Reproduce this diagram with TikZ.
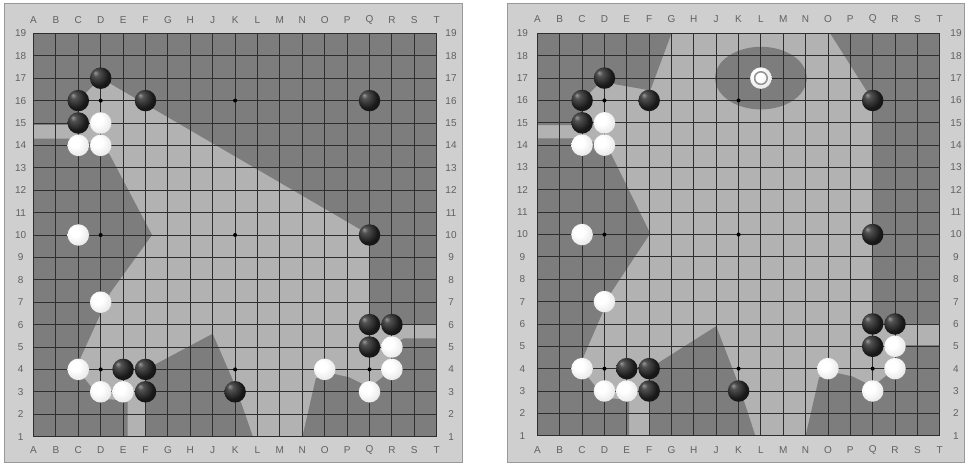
\documentclass[tikz,border=0pt]{standalone}
\usepackage{fontspec}
\setmainfont{Liberation Sans}
\pgfdeclareradialshading{blackstone}{\pgfpoint{-13bp}{13bp}}{color(0bp)=(black!40); color(7bp)=(black!68); color(24bp)=(black!90); color(50bp)=(black!97)}
\pgfdeclareradialshading{whitestone}{\pgfpoint{-10bp}{10bp}}{color(0bp)=(white); color(12bp)=(white); color(30bp)=(black!9); color(44bp)=(black!24); color(50bp)=(black!38)}
\tikzset{
  panel/.style={fill=black!19, draw=black!40, line width=0.6pt},
  darkterr/.style={fill=black!51},
  lightterr/.style={fill=black!30},
  gridline/.style={draw=black!82, line width=0.85pt},
  coordlabel/.style={text=black!62, font=\fontsize{10}{11}\selectfont, inner sep=0pt},
  bstone/.style={circle, minimum size=21.5pt, inner sep=0pt, shade, shading=blackstone},
  wstone/.style={circle, minimum size=21.5pt, inner sep=0pt, shade, shading=whitestone},
  starpt/.style={circle, fill=black, minimum size=4pt, inner sep=0pt},
  marker/.style={draw=black!42, line width=1.6pt},
}
\begin{document}
\begin{tikzpicture}[x=1pt,y=1pt]
\useasboundingbox (0,0) rectangle (967,464);
\fill[white] (0,0) rectangle (967,464);
% panels
\path[panel] (4,2) rectangle (462,461);
\path[panel] (507,2) rectangle (964,461);

% ================= LEFT BOARD =================
\begin{scope}[shift={(11.1pt,5pt)}, x=22.4pt, y=22.4pt]
  \fill[darkterr] (1,1) rectangle (19,19);
  \fill[lightterr] (1,14.9) -- (3,14.9) -- (3,16) -- (4,17) -- (16,10) -- (16,6) -- (19,6)
    -- (19,5.38) -- (17.5,5.38) -- (17,5) -- (17,4) -- (16,3.2) -- (15.1,3.65) -- (14.2,3.85)
    -- (13.6,3.6) -- (13,1) -- (10.8,1) -- (10,3.3) -- (9,5.6) -- (6,4) -- (6,1) -- (5.2,1)
    -- (5.2,2.6) -- (4,2.7) -- (3.2,3.7) -- (3.1,4.5) -- (4.42,7.4) -- (6.3,10) -- (4.4,13.6)
    -- (4,14) -- (3,14.3) -- (1,14.3) -- cycle;
  \foreach \i in {1,...,19} {
    \draw[gridline] (\i,1) -- (\i,19);
    \draw[gridline] (1,\i) -- (19,\i);
  }
  \foreach \l [count=\i] in {A,B,C,D,E,F,G,H,J,K,L,M,N,O,P,Q,R,S,T} {
    \node[coordlabel] (atop\l) at (\i,19.6) {\l};
    \node[coordlabel] (abot\l) at (\i,0.4) {\l};
  }
  \foreach \i in {1,...,19} {
    \node[coordlabel] (aleft\i) at (0.43,\i) {\i};
    \node[coordlabel] (aright\i) at (19.64,\i) {\i};
  }
  \foreach \c/\r/\n in {4/4/D4,4/10/D10,4/16/D16,10/4/K4,10/10/K10,10/16/K16,16/4/Q4,16/10/Q10,16/16/Q16}
    \node[starpt] (as\n) at (\c,\r) {};
  \foreach \c/\r/\n in {4/17/D17,3/16/C16,6/16/F16,3/15/C15,16/16/Q16,16/10/Q10,16/6/Q6,17/6/R6,16/5/Q5,5/4/E4,6/4/F4,6/3/F3,10/3/K3}
    \node[bstone] (a\n) at (\c,\r) {};
  \foreach \c/\r/\n in {4/15/D15,3/14/C14,4/14/D14,3/10/C10,4/7/D7,3/4/C4,4/3/D3,5/3/E3,14/4/O4,17/5/R5,17/4/R4,16/3/Q3}
    \node[wstone] (a\n) at (\c,\r) {};
\end{scope}

% ================= RIGHT BOARD =================
\begin{scope}[shift={(515.05pt,5.95pt)}, x=22.35pt, y=22.35pt]
  \fill[lightterr] (1,1) rectangle (19,19);
  \fill[darkterr] (1,19) -- (7,19) -- (6.05,16.45) -- (4.5,16.72) -- (4,17) -- (3,16) -- (3,14.9) -- (1,14.9) -- cycle;
  \fill[darkterr] (1,14.3) -- (3,14.3) -- (4,14) -- (4.3,13.6) -- (6.05,10.05) -- (4.32,7.44) -- (3.05,4.5)
    -- (3.2,3.7) -- (4,2.7) -- (5.1,2.6) -- (5.1,1) -- (1,1) -- cycle;
  \fill[darkterr] (6,1) -- (6,4) -- (9,5.9) -- (10,3.3) -- (10.75,1) -- cycle;
  \fill[darkterr] (14.1,19) -- (19,19) -- (19,6) -- (16,6) -- (16,16) -- cycle;
  \fill[darkterr] (19,5.05) -- (17.45,5.05) -- (17,5) -- (17,4) -- (16,3.2) -- (15.1,3.65) -- (14.2,3.85)
    -- (13.6,3.6) -- (13,1) -- (19,1) -- cycle;
  \fill[darkterr] (11,17) ellipse [x radius=45.8pt, y radius=31.3pt];
  \foreach \i in {1,...,19} {
    \draw[gridline] (\i,1) -- (\i,19);
    \draw[gridline] (1,\i) -- (19,\i);
  }
  \foreach \l [count=\i] in {A,B,C,D,E,F,G,H,J,K,L,M,N,O,P,Q,R,S,T} {
    \node[coordlabel] (btop\l) at (\i,19.65) {\l};
    \node[coordlabel] (bbot\l) at (\i,0.36) {\l};
  }
  \foreach \i in {1,...,19} {
    \node[coordlabel] (bleft\i) at (0.33,\i) {\i};
    \node[coordlabel] (bright\i) at (19.73,\i) {\i};
  }
  \foreach \c/\r/\n in {4/4/D4,4/10/D10,4/16/D16,10/4/K4,10/10/K10,10/16/K16,16/4/Q4,16/10/Q10,16/16/Q16}
    \node[starpt] (bs\n) at (\c,\r) {};
  \foreach \c/\r/\n in {4/17/D17,3/16/C16,6/16/F16,3/15/C15,16/16/Q16,16/10/Q10,16/6/Q6,17/6/R6,16/5/Q5,5/4/E4,6/4/F4,6/3/F3,10/3/K3}
    \node[bstone] (b\n) at (\c,\r) {};
  \foreach \c/\r/\n in {4/15/D15,3/14/C14,4/14/D14,3/10/C10,4/7/D7,3/4/C4,4/3/D3,5/3/E3,14/4/O4,17/5/R5,17/4/R4,16/3/Q3,11/17/L17}
    \node[wstone] (b\n) at (\c,\r) {};
  \draw[marker] (bL17.center) circle (6.3pt);
\end{scope}
\end{tikzpicture}
\end{document}
